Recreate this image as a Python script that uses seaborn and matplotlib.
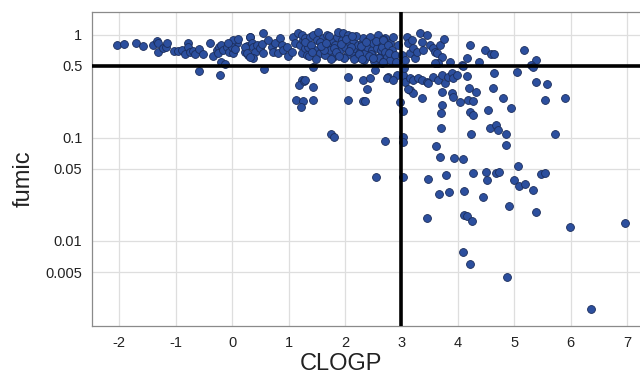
import numpy as np
import pandas as pd
import seaborn as sns
import matplotlib.pyplot as plt
from matplotlib.ticker import FixedLocator, NullLocator

# ── values, grouped by area of the plot ──
# far-left band (CLOGP < 0.4)
clogp_left = [-2.04, -1.91, -1.70, -1.58, -1.40, -1.33, -1.31, -1.31, -1.22, -1.17, -1.15,
              -1.03, -0.96, -0.89, -0.83, -0.78, -0.78, -0.74, -0.69, -0.66, -0.59, -0.51, -0.39, -0.59,
              -0.34, -0.27, -0.23, -0.20, -0.25, -0.20, -0.12, -0.21,
              -0.16, -0.09, -0.05, 0.02, 0.09, 0.02, 0.11, 0.00, 0.05, -0.07, 0.27, 0.32, 0.23, 0.28]
fumic_left = [0.80, 0.818, 0.836, 0.782, 0.80, 0.875, 0.836, 0.684, 0.748, 0.765, 0.836,
              0.70, 0.70, 0.715, 0.654, 0.836, 0.765, 0.684, 0.70, 0.654, 0.731, 0.654, 0.836, 0.447,
              0.625, 0.715, 0.765, 0.80, 0.669, 0.547, 0.523, 0.409,
              0.715, 0.765, 0.684, 0.669, 0.836, 0.894, 0.915, 0.765, 0.731, 0.836, 0.782, 0.956, 0.684, 0.64]

# band between 0.2 and 1.35
clogp_mid = [0.23, 0.27, 0.32, 0.35, 0.37, 0.41, 0.44, 0.50, 0.53, 0.55, 0.55, 0.37, 0.32,
             0.64, 0.71, 0.73, 0.76, 0.82, 0.85, 0.89, 0.90, 0.98, 0.99, 1.06, 1.08, 1.12,
             1.17, 1.21, 1.24, 1.26, 1.29, 1.33, 0.57, 1.24, 1.19, 1.13, 1.26, 1.22, 1.28]
fumic_mid = [0.765, 0.669, 0.956, 0.836, 0.765, 0.684, 0.80, 0.748, 0.818, 1.05, 0.669, 0.598, 0.611,
             0.894, 0.765, 0.684, 0.836, 0.669, 0.935, 0.80, 0.715, 0.765, 0.625, 0.684, 0.956, 0.836,
             1.05, 0.80, 0.669, 0.894, 0.748, 0.64, 0.468, 0.366, 0.327, 0.234, 0.229, 0.20, 0.358]

# dense band 1.2 - 2.9
clogp_dense = [1.24, 1.29, 1.35, 1.38, 1.44, 1.47, 1.51, 1.52, 1.56, 1.60, 1.61, 1.65, 1.68,
               1.70, 1.74, 1.77, 1.79, 1.83, 1.86, 1.88, 1.91, 1.95, 1.97, 2.00, 2.04, 2.06,
               2.09, 2.13, 2.15, 2.18, 2.22, 2.23, 2.27, 2.30, 2.32, 2.36, 2.39, 2.41, 2.45,
               2.48, 2.50, 2.54, 2.57, 2.59, 2.62, 2.66, 2.68, 2.71, 2.75, 2.77, 2.80,
               1.44, 2.06, 2.32, 2.45, 2.39, 1.44, 1.29, 1.44, 2.06, 2.32, 2.66, 2.36,
               2.54, 2.77, 2.92]
fumic_dense = [1.00, 0.935, 0.765, 0.956, 1.00, 0.715, 0.894, 1.07, 0.669, 0.765, 0.935, 0.64, 1.00,
               0.80, 0.715, 0.894, 0.611, 0.80, 0.956, 1.07, 0.715, 0.894, 1.05, 0.765, 0.64, 1.00,
               0.836, 0.684, 0.894, 0.748, 0.611, 0.80, 0.684, 0.836, 0.935, 0.669, 0.765, 0.894, 0.956,
               0.715, 0.836, 0.611, 0.748, 1.00, 0.855, 0.669, 0.765, 0.935, 0.598, 0.684, 0.836,
               0.489, 0.391, 0.366, 0.383, 0.30, 0.313, 0.366, 0.236, 0.234, 0.229, 0.535, 0.229,
               0.457, 0.391, 0.409]

clogp_fill = [1.30, 1.40, 1.55, 1.63, 1.72, 1.80, 1.93, 2.02, 2.11, 2.20, 2.28, 2.37, 2.46, 2.55,
              2.64, 2.72, 2.85, 1.36, 1.48, 1.58, 1.75, 1.85, 1.98, 2.08, 2.16, 2.25, 2.34, 2.43,
              2.52, 2.61, 2.70, 2.78, 1.42, 1.66, 1.89, 2.12, 2.31, 2.49, 2.67, 2.88]
fumic_fill = [0.85, 0.80, 0.86, 0.72, 0.97, 0.74, 0.82, 0.92, 0.76, 0.97, 0.78, 0.86, 0.66, 0.88,
              0.72, 0.80, 0.64, 0.62, 0.58, 0.78, 0.58, 0.68, 0.60, 0.70, 0.58, 0.66, 0.57, 0.62,
              0.56, 0.60, 0.56, 0.63, 0.68, 0.84, 0.62, 0.98, 0.59, 0.60, 0.92, 0.55]

# around the CLOGP = 3 line
clogp_cut = [2.66, 2.68, 2.71, 2.75, 2.77, 2.80, 2.84, 2.85, 2.68, 2.78, 2.89,
             3.10, 3.12, 3.16, 3.19, 3.21, 3.24, 3.28, 3.33, 3.37, 3.39, 3.46, 3.51, 3.56,
             3.60, 3.63, 3.69, 3.72, 3.65, 3.87, 4.08, 4.22,
             2.75, 2.85, 3.03, 3.07, 3.16, 3.21, 3.30, 3.37, 3.46, 3.48, 3.56, 3.65, 3.72,
             3.78, 3.83, 3.90, 3.92, 3.99, 3.16, 3.21, 3.37, 3.72, 3.90, 3.92, 2.98, 3.72,
             4.04, 4.18, 2.94, 2.91, 3.01, 3.07, 3.05]
fumic_cut = [0.765, 0.894, 0.684, 0.611, 0.80, 0.572, 0.715, 0.956, 0.547, 0.669, 0.64,
             0.956, 0.836, 0.669, 0.894, 0.748, 0.598, 0.684, 1.05, 0.855, 0.715, 1.00, 0.80, 0.748,
             0.684, 0.669, 0.80, 0.611, 0.535, 0.547, 0.511, 0.80,
             0.383, 0.366, 0.409, 0.35, 0.383, 0.366, 0.383, 0.366, 0.35, 0.342, 0.391, 0.366, 0.409,
             0.342, 0.391, 0.428, 0.383, 0.409, 0.292, 0.274, 0.245, 0.280, 0.274, 0.25, 0.224, 0.209,
             0.224, 0.234, 0.80, 0.547, 0.64, 0.572, 0.478]

# sparse upper right
clogp_right = [3.76, 4.49, 4.59, 4.64, 4.17, 4.38, 4.10, 5.18, 5.39, 5.30, 5.34, 5.05, 4.65,
               4.17, 5.39, 5.59, 4.20, 4.33, 4.63, 4.27, 4.80, 5.55, 5.90, 4.95, 4.54, 4.22,
               4.27, 3.60]
fumic_right = [0.915, 0.715, 0.654, 0.654, 0.598, 0.547, 0.50, 0.715, 0.572, 0.511, 0.489, 0.437, 0.428,
               0.40, 0.35, 0.334, 0.306, 0.28, 0.306, 0.229, 0.245, 0.234, 0.245, 0.196, 0.187, 0.178,
               0.167, 0.535]

# low fumic tail
clogp_low = [3.03, 3.47, 3.79, 3.67, 3.85, 4.11, 4.27, 4.50, 4.52, 4.68, 4.73, 5.00, 5.07,
             5.09, 5.20, 5.34, 5.48, 5.55, 4.45, 4.91, 5.39, 3.46, 4.11, 4.17, 4.26, 5.99,
             6.97, 4.10, 4.22, 4.88, 6.37, 3.62, 3.69, 3.94, 4.10, 3.71, 3.71, 4.24, 4.57,
             4.68, 4.72, 4.86, 4.86, 5.73, 3.03, 3.03, 3.03, 3.12, 1.76, 1.81, 2.71, 2.55]
fumic_low = [0.042, 0.040, 0.044, 0.0286, 0.030, 0.0305, 0.046, 0.047, 0.039, 0.046, 0.047, 0.039, 0.053,
             0.034, 0.036, 0.031, 0.045, 0.046, 0.027, 0.022, 0.019, 0.0167, 0.018, 0.0175, 0.0156, 0.0137,
             0.015, 0.0078, 0.006, 0.0045, 0.0022, 0.084, 0.065, 0.064, 0.062, 0.125, 0.175, 0.109, 0.125,
             0.134, 0.12, 0.109, 0.085, 0.109, 0.102, 0.092, 0.183, 0.30, 0.109, 0.102, 0.094, 0.042]

df = pd.DataFrame({
    'CLOGP': clogp_left + clogp_mid + clogp_dense + clogp_fill + clogp_cut + clogp_right + clogp_low,
    'fumic': fumic_left + fumic_mid + fumic_dense + fumic_fill + fumic_cut + fumic_right + fumic_low,
})

ytick_vals = [0.005, 0.01, 0.05, 0.1, 0.5, 1]
ytick_labels = ['0.005', '0.01', '0.05', '0.1', '0.5', '1']
xtick_vals = [-2, -1, 0, 1, 2, 3, 4, 5, 6, 7]

sns.set_style('white')
plt.rcParams['font.family'] = ['Liberation Sans', 'DejaVu Sans']

fig = plt.figure(figsize=(6.4, 3.75), dpi=100)
ax = fig.add_axes([0.144, 0.131, 0.856, 0.837])

sns.scatterplot(data=df, x='CLOGP', y='fumic', ax=ax, s=32,
                color='#2c4f9e', edgecolor='#1b2d5a', linewidth=0.6, zorder=3)

ax.set_yscale('log')
ax.set_xlim(-2.48, 7.23)
ax.set_ylim(0.0015, 1.67)

ax.axhline(0.5, color='black', lw=2.6, zorder=4)
ax.axvline(3, color='black', lw=2.6, zorder=4)

ax.yaxis.set_major_locator(FixedLocator(ytick_vals))
ax.yaxis.set_minor_locator(NullLocator())
ax.set_yticks(ytick_vals, ytick_labels)
ax.set_xticks(xtick_vals, [str(v) for v in xtick_vals])

ax.grid(True, color='#dedede', lw=0.9, zorder=0)
ax.set_axisbelow(True)

for side in ['left', 'bottom', 'top']:
    ax.spines[side].set_color('#8a8a8a')
    ax.spines[side].set_linewidth(0.9)
ax.spines['right'].set_visible(False)

ax.tick_params(axis='both', direction='out', length=4, width=0.8, color='#8a8a8a',
               labelsize=10.5, labelcolor='#222222', pad=3)

ax.set_xlabel('CLOGP', fontsize=17, color='#222222')
ax.set_ylabel('fumic', fontsize=17, color='#222222')
ax.xaxis.set_label_coords(0.454, -0.085)
ax.yaxis.set_label_coords(-0.105, 0.47)

fig.savefig('out.png', dpi=100)
